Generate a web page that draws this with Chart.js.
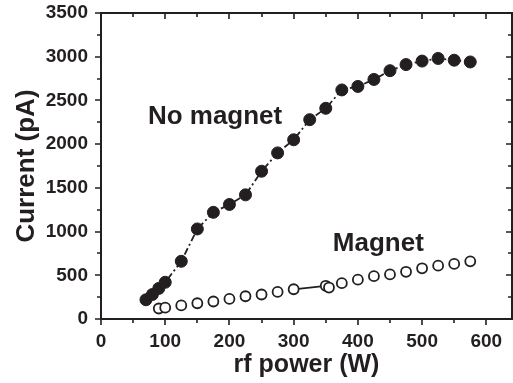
<!DOCTYPE html>
<html>
<head>
<meta charset="utf-8">
<script src="https://cdn.jsdelivr.net/npm/chart.js@4.4.0/dist/chart.umd.min.js"></script>
<style>
  html, body { margin: 0; padding: 0; background: #fff; }
  #wrap { width: 513px; height: 383px; }
</style>
</head>
<body>
<div id="wrap"><canvas id="powerChart" width="513" height="383"></canvas></div>
<script>
// --- data ---
const noMagnetPower   = [70, 80, 90, 100, 125, 150, 175, 200, 225, 250, 275, 300, 325, 350, 375, 400, 425, 450, 475, 500, 525, 550, 575];
const noMagnetCurrent = [220, 280, 350, 420, 660, 1030, 1220, 1310, 1420, 1690, 1900, 2050, 2280, 2410, 2620, 2660, 2740, 2840, 2910, 2950, 2980, 2960, 2940];
const magnetPower     = [90, 100, 125, 150, 175, 200, 225, 250, 275, 300, 350, 355, 375, 400, 425, 450, 475, 500, 525, 550, 575];
const magnetCurrent   = [120, 130, 155, 180, 200, 230, 260, 280, 310, 340, 380, 360, 410, 450, 490, 510, 540, 580, 610, 630, 660];

// labelled ticks (minor ticks sit halfway between)
const xMajorTicks = [0, 100, 200, 300, 400, 500, 600];
const yMajorTicks = [0, 500, 1000, 1500, 2000, 2500, 3000, 3500];

// in-plot labels, anchored in data units
const seriesLabels = [
    { text: 'No magnet', x: 73, y: 2235 },
    { text: 'Magnet', x: 361, y: 782 }
];

const ink = '#231f20';
const fontFamily = "'Liberation Sans', Arial, Helvetica, sans-serif";

const toPoints = (xs, ys) => xs.map((v, i) => ({ x: v, y: ys[i] }));

// the layout adds label overhang on its own; the frame position is fixed instead
function fixBox(scale, size) {
    if (scale.isHorizontal()) scale.height = size; else scale.width = size;
    scale.paddingLeft = 0;
    scale.paddingRight = 0;
    scale.paddingTop = 0;
    scale.paddingBottom = 0;
}

// frame on all four sides, ticks out on bottom/left and in on top/right
const framePlugin = {
    id: 'frame',
    beforeDatasetsDraw(chart) {
        const { ctx, chartArea: a, scales: { x, y } } = chart;
        ctx.save();
        ctx.strokeStyle = ink;
        ctx.lineWidth = 2;
        ctx.strokeRect(a.left, a.top, a.right - a.left, a.bottom - a.top);
        ctx.lineWidth = 1.6;
        ctx.beginPath();
        x.ticks.forEach(t => {
            const px = Math.round(x.getPixelForValue(t.value));
            const len = xMajorTicks.includes(t.value) ? 6 : 4;
            ctx.moveTo(px, a.bottom); ctx.lineTo(px, a.bottom + len);
            ctx.moveTo(px, a.top); ctx.lineTo(px, a.top + len);
        });
        y.ticks.forEach(t => {
            const py = Math.round(y.getPixelForValue(t.value));
            const len = yMajorTicks.includes(t.value) ? 6 : 4;
            ctx.moveTo(a.left, py); ctx.lineTo(a.left - len, py);
            ctx.moveTo(a.right, py); ctx.lineTo(a.right - len, py);
        });
        ctx.stroke();
        ctx.restore();
    },
    afterDraw(chart) {
        const { ctx, scales: { x, y } } = chart;
        ctx.save();
        ctx.fillStyle = ink;
        ctx.font = `bold 26px ${fontFamily}`;
        ctx.textBaseline = 'alphabetic';
        seriesLabels.forEach(l => {
            ctx.fillText(l.text, x.getPixelForValue(l.x), y.getPixelForValue(l.y));
        });
        ctx.restore();
    }
};

const ctx = document.getElementById('powerChart').getContext('2d');
new Chart(ctx, {
    type: 'line',
    data: {
        datasets: [{
            label: 'No magnet',
            data: toPoints(noMagnetPower, noMagnetCurrent),
            borderColor: ink,
            borderWidth: 1.8,
            borderDash: [7, 3, 2, 3],
            backgroundColor: ink,
            pointRadius: 6,
            pointBorderWidth: 1,
            pointBorderColor: ink,
            pointBackgroundColor: ink,
            tension: 0
        }, {
            label: 'Magnet',
            data: toPoints(magnetPower, magnetCurrent),
            borderColor: ink,
            borderWidth: 1.8,
            // only the 300 -> 350 W link is drawn in the original
            segment: {
                borderColor: c => (c.p0.parsed.x === 300 ? ink : 'rgba(0,0,0,0)')
            },
            pointRadius: 5,
            pointBorderWidth: 1.8,
            pointBorderColor: ink,
            pointBackgroundColor: '#fff',
            tension: 0
        }]
    },
    options: {
        responsive: false,
        animation: false,
        // autoPadding reserved room for the point radius on the right; not wanted here
        layout: { autoPadding: false, padding: { left: 0, right: 1, top: 13, bottom: 0 } },
        plugins: {
            legend: { display: false },
            tooltip: { enabled: false }
        },
        scales: {
            x: {
                type: 'linear',
                min: 0,
                max: 640,
                afterFit: s => fixBox(s, 64),
                grid: { display: false, drawTicks: false },
                border: { display: false },
                ticks: {
                    stepSize: 50,
                    includeBounds: false,
                    autoSkip: false,
                    maxRotation: 0,
                    padding: 11,
                    color: ink,
                    font: { family: fontFamily, size: 19, weight: 'bold' },
                    callback: v => (xMajorTicks.includes(v) ? String(v) : '')
                },
                title: {
                    display: true,
                    text: 'rf power (W)',
                    color: ink,
                    font: { family: fontFamily, size: 25, weight: 'bold' },
                    padding: { top: 0, bottom: 3 }
                }
            },
            y: {
                min: 0,
                max: 3500,
                afterFit: s => fixBox(s, 101),
                grid: { display: false, drawTicks: false },
                border: { display: false },
                ticks: {
                    stepSize: 250,
                    autoSkip: false,
                    padding: 13,
                    color: ink,
                    font: { family: fontFamily, size: 19, weight: 'bold' },
                    callback: v => (yMajorTicks.includes(v) ? String(v) : '')
                },
                title: {
                    display: true,
                    text: 'Current (pA)',
                    color: ink,
                    font: { family: fontFamily, size: 26, weight: 'bold' },
                    padding: { top: 11, bottom: 0 }
                }
            }
        }
    },
    plugins: [framePlugin]
});
</script>
</body>
</html>
